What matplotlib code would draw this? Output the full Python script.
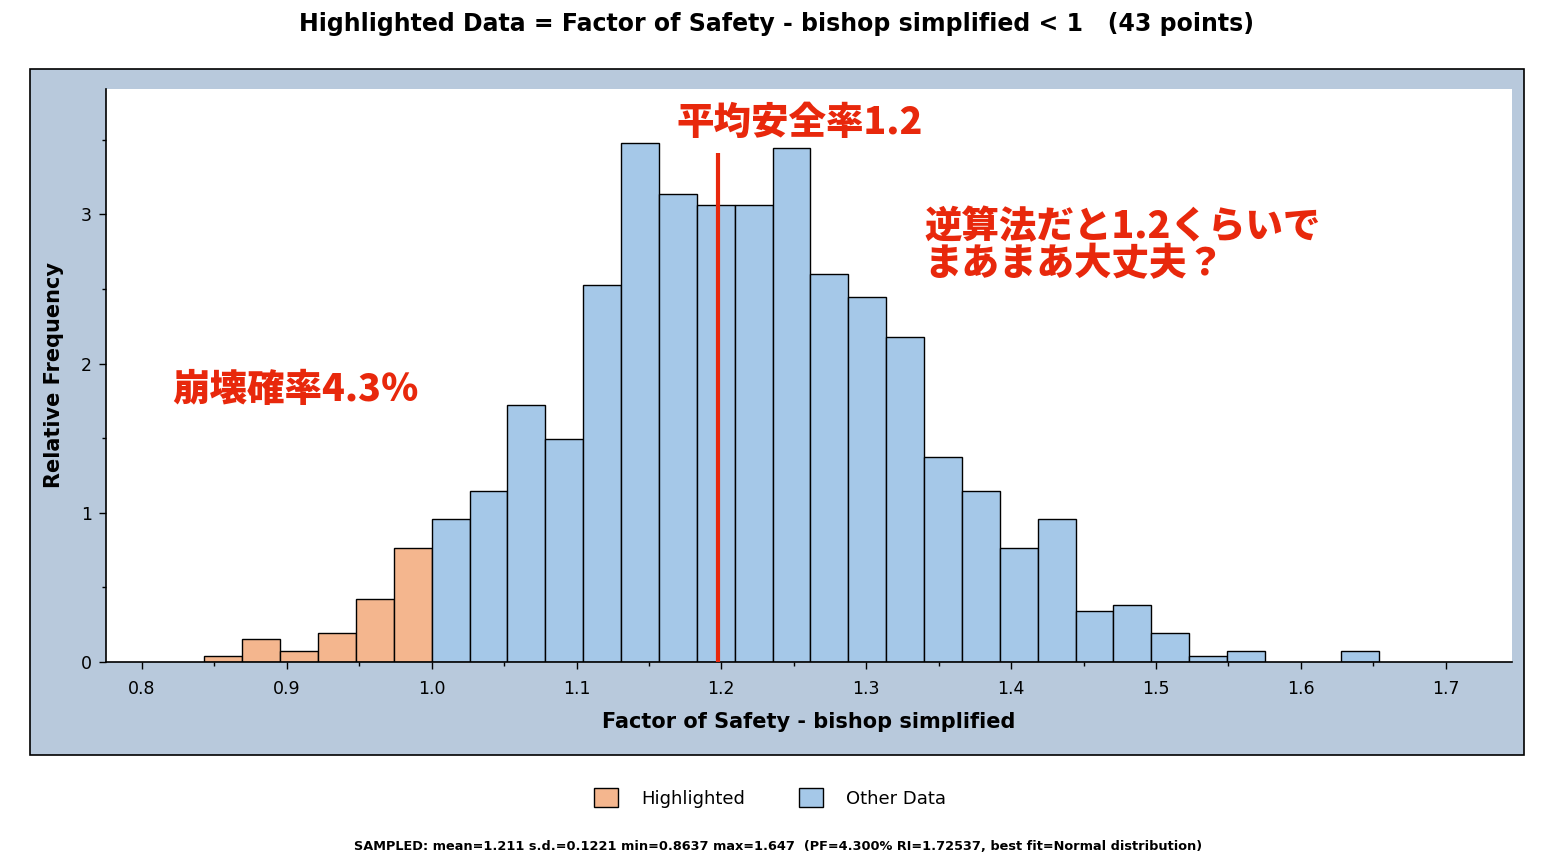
import numpy as np
import matplotlib
matplotlib.use("Agg")
import matplotlib.pyplot as plt
from matplotlib.patches import Rectangle, Patch
from matplotlib.ticker import MultipleLocator

# histogram data (counts per bin, 1000 samples)
N_SAMPLES = 1000
BIN_WIDTH = 0.02615
SPLIT = 1.0  # highlight threshold: FS < 1
highlight_counts = [1, 4, 2, 5, 11, 20]
other_counts = [25, 30, 45, 39, 66, 91, 82, 80, 80, 90, 68, 64, 57, 36,
                30, 20, 25, 9, 10, 5, 1, 2, 0, 0, 2]
mean_fs = 1.198  # hand-drawn marker line

title = "Highlighted Data = Factor of Safety - bishop simplified < 1   (43 points)"
footer = ("SAMPLED: mean=1.211 s.d.=0.1221 min=0.8637 max=1.647  "
          "(PF=4.300% RI=1.72537, best fit=Normal distribution)")

ORANGE = "#f4b68e"
BLUE = "#a5c8e8"
PANEL = "#b8c9dc"
RED = "#e8280c"
JP = ["Noto Sans CJK JP", "DejaVu Sans"]

fig = plt.figure(figsize=(15.5, 8.61), dpi=100)
fig.patch.set_facecolor("white")

# grey-blue chart panel behind the axes
fig.patches.append(Rectangle((30 / 1550, 1 - 755 / 861), 1494 / 1550, 686 / 861,
                             transform=fig.transFigure, facecolor=PANEL,
                             edgecolor="black", linewidth=1.2, zorder=-10))

ax = fig.add_axes([106 / 1550, 1 - 662 / 861, 1406 / 1550, 573 / 861])
ax.set_facecolor("white")

# bin edges
h_left = SPLIT - BIN_WIDTH * np.arange(len(highlight_counts), 0, -1)
o_left = SPLIT + BIN_WIDTH * np.arange(len(other_counts))
h_rel = np.array(highlight_counts) / (N_SAMPLES * BIN_WIDTH)
o_rel = np.array(other_counts) / (N_SAMPLES * BIN_WIDTH)

ax.bar(h_left, h_rel, width=BIN_WIDTH, align="edge", color=ORANGE,
       edgecolor="black", linewidth=1.0, zorder=2)
mask = o_rel > 0
ax.bar(o_left[mask], o_rel[mask], width=BIN_WIDTH, align="edge", color=BLUE,
       edgecolor="black", linewidth=1.0, zorder=2)

ax.vlines(mean_fs, 0, 3.41, color=RED, linewidth=3, zorder=3)

ax.set_xlim(0.7752, 1.7458)
ax.set_ylim(0, 3.84)
ax.xaxis.set_major_locator(MultipleLocator(0.1))
ax.xaxis.set_minor_locator(MultipleLocator(0.05))
ax.yaxis.set_major_locator(MultipleLocator(1))
ax.yaxis.set_minor_locator(MultipleLocator(0.5))
ax.xaxis.set_major_formatter(plt.FuncFormatter(lambda v, p: f"{v:.1f}"))
ax.tick_params(which="major", direction="out", length=5, width=1, labelsize=12.5, pad=8)
ax.tick_params(axis="y", which="major", pad=5)
ax.tick_params(which="minor", direction="out", length=3, width=1)
for s in ["top", "right"]:
    ax.spines[s].set_visible(False)
for s in ["left", "bottom"]:
    ax.spines[s].set_linewidth(1.2)

ax.set_xlabel("Factor of Safety - bishop simplified", fontsize=15, fontweight="bold", labelpad=10)
ax.set_ylabel("Relative Frequency", fontsize=15, fontweight="bold", labelpad=12)

# hand-written style annotations
ax.text(1.169, 3.61, "平均安全率1.2", color=RED, fontsize=27, fontweight="heavy",
        family=JP, ha="left", va="center", zorder=4)
ax.text(1.340, 3.04, "逆算法だと1.2くらいで\nまあまあ大丈夫？", color=RED, fontsize=27,
        fontweight="heavy", family=JP, ha="left", va="top", linespacing=0.95, zorder=4)
ax.text(0.821, 1.82, "崩壊確率4.3％", color=RED, fontsize=27, fontweight="heavy",
        family=JP, ha="left", va="center", zorder=4)

fig.text(0.501, 1 - 24 / 861, title, ha="center", va="center", fontsize=17, fontweight="bold")

handles = [Patch(facecolor=ORANGE, edgecolor="black", label="Highlighted"),
           Patch(facecolor=BLUE, edgecolor="black", label="Other Data")]
fig.legend(handles=handles, loc="center", bbox_to_anchor=(0.497, 1 - 798 / 861), ncol=2,
           frameon=False, fontsize=13, handlelength=1.3, handleheight=1.2,
           handletextpad=1.3, columnspacing=3.0)

fig.text(0.502, 1 - 847 / 861, footer, ha="center", va="center", fontsize=9.3, fontweight="bold")

fig.savefig("out.png", dpi=100, facecolor="white")
